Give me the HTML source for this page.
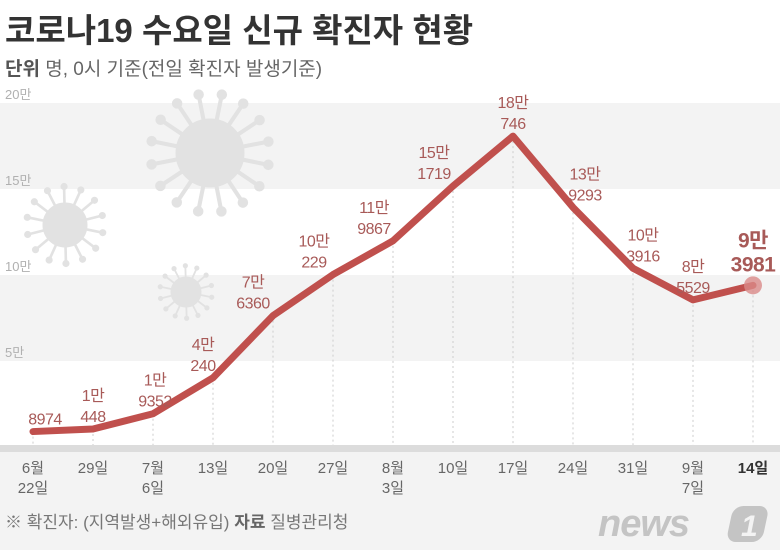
<!DOCTYPE html>
<html><head><meta charset="utf-8"><style>
body{margin:0;background:#fff}
svg{display:block;font-family:"Liberation Sans","Noto Sans CJK KR",sans-serif}
</style></head><body>
<svg width="780" height="550" viewBox="0 0 780 550">
<rect x="0" y="0" width="780" height="550" fill="#fff"/>
<rect x="0" y="445" width="780" height="105" fill="#f3f3f3"/>
<g id="bands"></g>
<g id="viruses" fill="#e2e2e2" stroke="#e2e2e2"></g>
<rect x="0" y="445" width="780" height="7" fill="#dcdcdc"/>
<text x="5" y="42" font-size="33" font-weight="bold" fill="#333">코로나19 수요일 신규 확진자 현황</text>
<text x="5" y="75" font-size="19" fill="#666"><tspan font-weight="bold" fill="#555">단위</tspan>  명, 0시 기준(전일 확진자 발생기준)</text>
<g id="yticks" font-size="13" fill="#b0b0b0"></g>
<g id="guides"></g>
<g id="line"></g>
<g id="labels"></g>
<g id="xlabels" font-size="15" fill="#666" text-anchor="middle"></g>
<text x="5" y="528" font-size="17" fill="#777">※ 확진자: (지역발생+해외유입)  <tspan font-weight="bold" fill="#666">자료</tspan>  질병관리청</text>
<g>
<text x="598" y="536" font-size="38" font-style="italic" font-weight="bold" fill="#c4c4c4" letter-spacing="-1">news</text>
<rect x="730" y="506" width="36" height="36" rx="10" fill="#c4c4c4" transform="skewX(-12) translate(111 0)"/>
<text x="741" y="536" font-size="30" font-style="italic" font-weight="bold" fill="#f3f3f3">1</text>
</g>
</svg>
<script>
const categories=["6월\n22일","29일","7월\n6일","13일","20일","27일","8월\n3일","10일","17일","24일","31일","9월\n7일","14일"];
const values=[8974,10448,19352,40240,76360,100229,119867,151719,180746,139293,103916,85529,93981];
const topLabels=["","1만","1만","4만","7만","10만","11만","15만","18만","13만","10만","8만","9만"];
const bottomLabels=["8974","448","9352","240","6360","229","9867","1719","746","9293","3916","5529","3981"];
const yTicks=[50000,100000,150000,200000];
const yTickLabels=["5만","10만","15만","20만"];
const labelDx=[12,0,2,-10,-20,-19,-19,-19,0,12,10,0,0];
const NS="http://www.w3.org/2000/svg";
const x=i=>33+i*60;
const y=v=>447-v*(344/200000);
function mk(tag,attrs,parent,txt){const e=document.createElementNS(NS,tag);for(const k in attrs)e.setAttribute(k,attrs[k]);if(txt!==undefined)e.textContent=txt;document.getElementById(parent).appendChild(e);return e;}
[[200000,150000],[100000,50000]].forEach(b=>{
 const r=mk('rect',{x:0,y:y(b[0]),width:780,height:y(b[1])-y(b[0]),fill:'#f3f3f3'},'bands');
 
 
});
function virus(cx,cy,r,n){const g=document.createElementNS(NS,'g');document.getElementById('viruses').appendChild(g);
 const c=document.createElementNS(NS,'circle');c.setAttribute('cx',cx);c.setAttribute('cy',cy);c.setAttribute('r',r);g.appendChild(c);
 for(let k=0;k<n;k++){const a=k/n*Math.PI*2+0.2;const L=r*1.75;
  const l=document.createElementNS(NS,'line');l.setAttribute('x1',cx);l.setAttribute('y1',cy);l.setAttribute('x2',cx+Math.cos(a)*L);l.setAttribute('y2',cy+Math.sin(a)*L);l.setAttribute('stroke-width',r*0.12);g.appendChild(l);
  const d=document.createElementNS(NS,'circle');d.setAttribute('cx',cx+Math.cos(a)*L);d.setAttribute('cy',cy+Math.sin(a)*L);d.setAttribute('r',r*0.14);g.appendChild(d);}}
virus(210,153,34,16);virus(65,225,22,14);virus(186,292,15,14);
yTicks.forEach((t,i)=>{const e=mk('text',{x:5,y:y(t)-4},'yticks',yTickLabels[i]);
 
 });
categories.forEach((c,i)=>{
 const g=mk('line',{x1:x(i),x2:x(i),y1:y(values[i]),y2:445,stroke:'#ccc','stroke-dasharray':'2,3','stroke-width':1},'guides');
 
 
 const parts=c.split('\n');
 const t=mk('text',{x:x(i),y:473},'xlabels');
 
 
 if(i===categories.length-1){t.setAttribute('font-weight','bold');t.setAttribute('fill','#333');}
 parts.forEach((p,k)=>{const s=document.createElementNS(NS,'tspan');s.setAttribute('x',x(i));s.setAttribute('dy',k?20:0);s.textContent=p;t.appendChild(s);});
});
const pts=values.map((v,i)=>x(i)+','+y(v)).join(' ');
const pl=mk('polyline',{points:pts,fill:'none',stroke:'#c0504d','stroke-width':7,'stroke-linejoin':'round','stroke-linecap':'round'},'line');


const li=values.length-1;
const glow=mk('circle',{cx:x(li),cy:y(values[li]),r:9,fill:'#d98a88',opacity:0.8},'line');


values.forEach((v,i)=>{
 const last=i===li;
 const lx=x(i)+labelDx[i];
 const g=mk('text',{'text-anchor':'middle',fill:'#a85a58','font-size':last?21:16,'font-weight':last?'bold':'normal','letter-spacing':'-0.5'},'labels');
 
 
 const base=y(v)-(last?14:7);
 const lh=last?24:21;
 if(topLabels[i]){const a=document.createElementNS(NS,'tspan');a.setAttribute('x',lx);a.setAttribute('y',base-lh);a.textContent=topLabels[i];g.appendChild(a);}
 const b=document.createElementNS(NS,'tspan');b.setAttribute('x',lx);b.setAttribute('y',base);b.textContent=bottomLabels[i];g.appendChild(b);
});
</script>
</body></html>
